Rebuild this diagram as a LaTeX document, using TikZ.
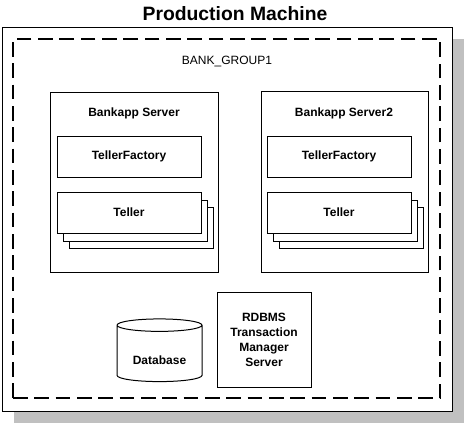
\documentclass[tikz,border=0pt]{standalone}
\usepackage{fontspec}
\setmainfont{Liberation Sans}
\usetikzlibrary{shapes.geometric, shadows}
\definecolor{shadowgray}{RGB}{192,192,192}

\begin{document}
\begin{tikzpicture}[
    x=0.75pt, y=-0.75pt,
    every node/.style={font=\bfseries\fontsize{9}{11.25}\selectfont, line width=0.75pt},
    box/.style={draw, rectangle, fill=white, inner sep=0pt},
    stack/.style={box, minimum width=108pt, minimum height=30.75pt,
        general shadow={shadow xshift=9pt, shadow yshift=-11.25pt, draw, fill=white},
        general shadow={shadow xshift=4.5pt, shadow yshift=-6pt, draw, fill=white}},
    factory/.style={box, minimum width=108pt, minimum height=30.75pt},
    server/.style={box, minimum width=125.5pt, minimum height=135.5pt}
]
    \useasboundingbox (0,0) rectangle (466,425);

    \node[font=\bfseries\fontsize{14.5}{17}\selectfont, anchor=base] (title) at (235,20) {Production Machine};
    \node[box, minimum width=337.5pt, minimum height=288pt,
          general shadow={fill=shadowgray, shadow xshift=9pt, shadow yshift=-9pt}] (machine) at (227,219) {};
    \node[draw, line width=2.1pt, dash pattern=on 11pt off 5pt,
          minimum width=320.25pt, minimum height=269.25pt] (group) at (226.5,218.5) {};
    \node[font=\fontsize{9}{11}\selectfont, anchor=base] (groupname) at (227,64.5) {BANK\_GROUP1};

    % servers
    \node[server] (srvA) at (134.5,182.5) {};
    \node[anchor=base] (srvAname) at (134,116) {Bankapp Server};
    \node[factory] (facA) at (129,156.5) {TellerFactory};
    \node[stack] (tellerA) at (129,212.5) {Teller};

    \node[server] (srvB) at (345,182) {};
    \node[anchor=base] (srvBname) at (344,116) {Bankapp Server2};
    \node[factory] (facB) at (339,156.5) {TellerFactory};
    \node[stack] (tellerB) at (339,212.5) {Teller};

    % database and transaction manager
    \node[draw, cylinder, shape border rotate=90, aspect=0.2, fill=white,
          text height=14pt, text depth=0pt,
          minimum width=63.75pt, minimum height=47pt] (db) at (159.5,355) {Database};
    \node[box, align=center, minimum width=70.5pt, minimum height=71.25pt] (tm) at (264,339.5)
        {RDBMS\\Transaction\\Manager\\Server};
\end{tikzpicture}
\end{document}
